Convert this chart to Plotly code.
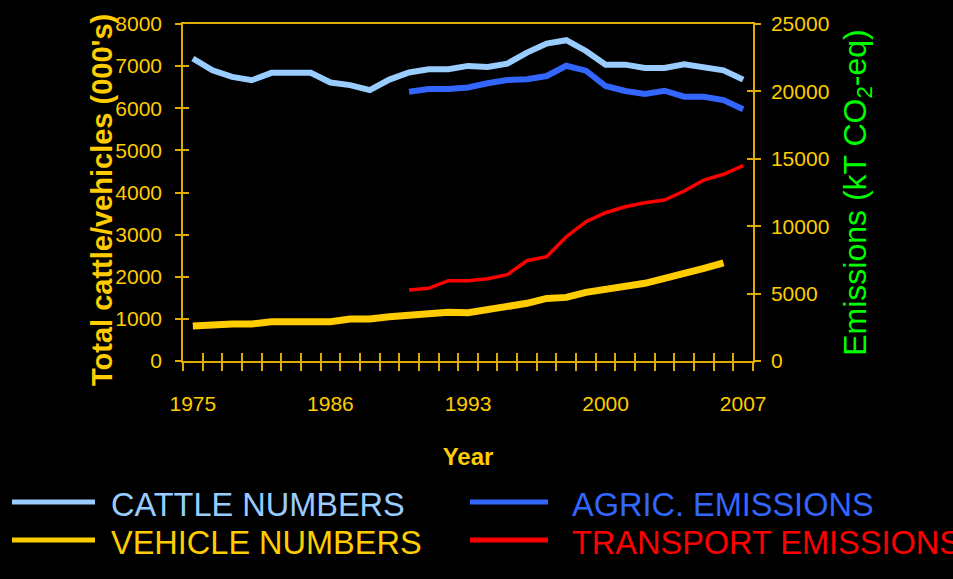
import plotly.graph_objects as go

# ---------------- data ----------------
years = ["1975", "1977", "1979", "1981", "1983", "1984", "1985", "1986",
         "1987", "1988", "1989", "1990", "1991", "1992", "1993", "1994",
         "1995", "1996", "1997", "1998", "1999", "2000", "2001", "2002",
         "2003", "2004", "2005", "2006", "2007"]
year_labels = ["1975", "1986", "1993", "2000", "2007"]

cattle_numbers = [7180, 6900, 6745, 6665, 6840, 6840, 6840, 6610, 6550, 6430,
                  6680, 6850, 6925, 6925, 7005, 6980, 7060, 7320, 7535, 7615,
                  7360, 7035, 7035, 6955, 6955, 7045, 6955, 6900, 6680]
vehicle_numbers = [830, 870, 878, 878, 930, 930, 930, 930, 995, 995,
                   1050, 1090, 1155, 1155, 1145, 1210, 1310, 1370, 1485, 1510,
                   1630, 1700, 1785, 1845, 1960, 2065, 2200, 2330, None]
agric_emissions = [None, None, None, None, None, None, None, None, None, None,
                   None, 19980, 20180, 20180, 20290, 20600, 20845, 20900, 21140,
                   21900, 21535, 20400, 20030, 19805, 20050, 19605, 19605, 19360,
                   18670]
transport_emissions = [None, None, None, None, None, None, None, None, None, None,
                       None, 5270, 5390, 5955, 5945, 6105, 6400, 7440, 7735,
                       9220, 10330, 11000, 11445, 11745, 11945, 12610, 13425,
                       13850, 14490]

# ---------------- styling ----------------
GOLD = "#FFCC00"
AXIS = "#E0AC00"
GREEN = "#00FF00"
SANS = "Liberation Sans, Arial, sans-serif"

series = [
    dict(name="CATTLE NUMBERS", y=cattle_numbers, color="#99CCFF", width=6, axis="y"),
    dict(name="AGRIC. EMISSIONS", y=agric_emissions, color="#3366FF", width=6, axis="y2"),
    dict(name="VEHICLE NUMBERS", y=vehicle_numbers, color="#FFCC00", width=7, axis="y"),
    dict(name="TRANSPORT EMISSIONS", y=transport_emissions, color="#FF0000", width=3.5, axis="y2"),
]

fig = go.Figure()
for s in series:
    fig.add_trace(go.Scatter(
        x=years, y=s["y"], name=s["name"], mode="lines", yaxis=s["axis"],
        line=dict(color=s["color"], width=s["width"]),
        connectgaps=False, showlegend=False, hoverinfo="x+y+name",
    ))

# empty helper traces so the overlay axes (inner halves of crossing ticks) are drawn
fig.add_trace(go.Scatter(x=[], y=[], xaxis="x2", yaxis="y3", showlegend=False, hoverinfo="skip"))
fig.add_trace(go.Scatter(x=[], y=[], xaxis="x2", yaxis="y4", showlegend=False, hoverinfo="skip"))

# manual legend (2 columns x 2 rows), positions in page pixels
legend_pos = {
    "CATTLE NUMBERS": (12, 95, 112, 502),
    "VEHICLE NUMBERS": (12, 95, 112, 540),
    "AGRIC. EMISSIONS": (470, 548, 573, 502),
    "TRANSPORT EMISSIONS": (470, 548, 573, 540),
}
W, H = 953, 579
PL, PR, PT, PB = 183, 753, 24, 361   # plot area edges in pixels


def px(x):
    return (x - PL) / (PR - PL)


def py(y):
    return (PB - y) / (PB - PT)


shapes = []
annotations = []
for s in series:
    x0, x1, xt, yc = legend_pos[s["name"]]
    shapes.append(dict(type="line", xref="paper", yref="paper",
                       x0=px(x0), x1=px(x1), y0=py(yc), y1=py(yc),
                       line=dict(color=s["color"], width=5)))
    annotations.append(dict(xref="paper", yref="paper",
                            x=px(xt - 3), y=py(yc + 3),
                            xanchor="left", yanchor="middle", showarrow=False,
                            text=s["name"], font=dict(family=SANS, size=32.5, color=s["color"])))

# left axis title
annotations.append(dict(xref="paper", yref="paper", x=px(102), y=py(200),
                        xanchor="center", yanchor="middle", showarrow=False,
                        textangle=-90, text="<b>Total cattle/vehicles (000's)</b>",
                        font=dict(family=SANS, size=29, color=GOLD)))

tick_font = dict(family=SANS, size=21, color=GOLD)

fig.update_layout(
    width=W, height=H,
    paper_bgcolor="black", plot_bgcolor="black",
    margin=dict(l=PL, r=W - PR, t=PT, b=H - PB, autoexpand=False),
    showlegend=False,
    shapes=shapes, annotations=annotations,
    xaxis=dict(
        type="category", categoryorder="array", categoryarray=years,
        range=[-0.5, len(years) - 0.5],
        tickmode="array", tickvals=years,
        ticktext=[y if y in year_labels else "" for y in years],
        tickson="boundaries", ticks="outside", ticklen=8, tickwidth=1.5, tickcolor=AXIS,
        tickangle=0, ticklabelstandoff=23,
        tickfont=tick_font,
        showline=True, linecolor=AXIS, linewidth=1.5, mirror=True,
        showgrid=False, zeroline=False, automargin=False,
        title=dict(text="<b>Year</b>", standoff=34,
                   font=dict(family=SANS, size=24, color=GOLD)),
    ),
    yaxis=dict(
        range=[0, 8000], dtick=1000, tick0=0, tickformat="d",
        ticks="outside", ticklen=6, tickwidth=1.5, tickcolor=AXIS,
        ticklabelstandoff=9,
        tickfont=tick_font,
        showline=True, linecolor=AXIS, linewidth=1.5,
        showgrid=False, zeroline=False, automargin=False,
    ),
    yaxis2=dict(
        overlaying="y", side="right", anchor="x",
        range=[0, 25000], dtick=5000, tick0=0, tickformat="d",
        ticks="outside", ticklen=6, tickwidth=1.5, tickcolor=AXIS,
        ticklabelstandoff=6,
        tickfont=tick_font,
        showline=True, linecolor=AXIS, linewidth=1.5,
        showgrid=False, zeroline=False, automargin=False,
        title=dict(text="Emissions (kT CO<sub>2</sub>-eq)", standoff=15,
                   font=dict(family=SANS, size=32, color=GREEN)),
    ),
    # inner halves of the crossing tick marks
    xaxis2=dict(overlaying="x", anchor="y", side="bottom", range=[-0.5, len(years) - 0.5],
                tickmode="array", tickvals=[i - 0.5 for i in range(len(years) + 1)],
                ticks="inside", ticklen=8, tickwidth=1.5, tickcolor=AXIS,
                showticklabels=False, showline=False, showgrid=False, zeroline=False),
    yaxis3=dict(overlaying="y", anchor="x2", side="left", range=[0, 8000], dtick=1000,
                ticks="inside", ticklen=6, tickwidth=1.5, tickcolor=AXIS,
                showticklabels=False, showline=False, showgrid=False, zeroline=False),
    yaxis4=dict(overlaying="y", anchor="x2", side="right", range=[0, 25000], dtick=5000,
                ticks="inside", ticklen=6, tickwidth=1.5, tickcolor=AXIS,
                showticklabels=False, showline=False, showgrid=False, zeroline=False),
)

fig.write_html("out.html", config={"displayModeBar": False},
               post_script="document.body.style.margin='0';document.body.style.background='black';")
